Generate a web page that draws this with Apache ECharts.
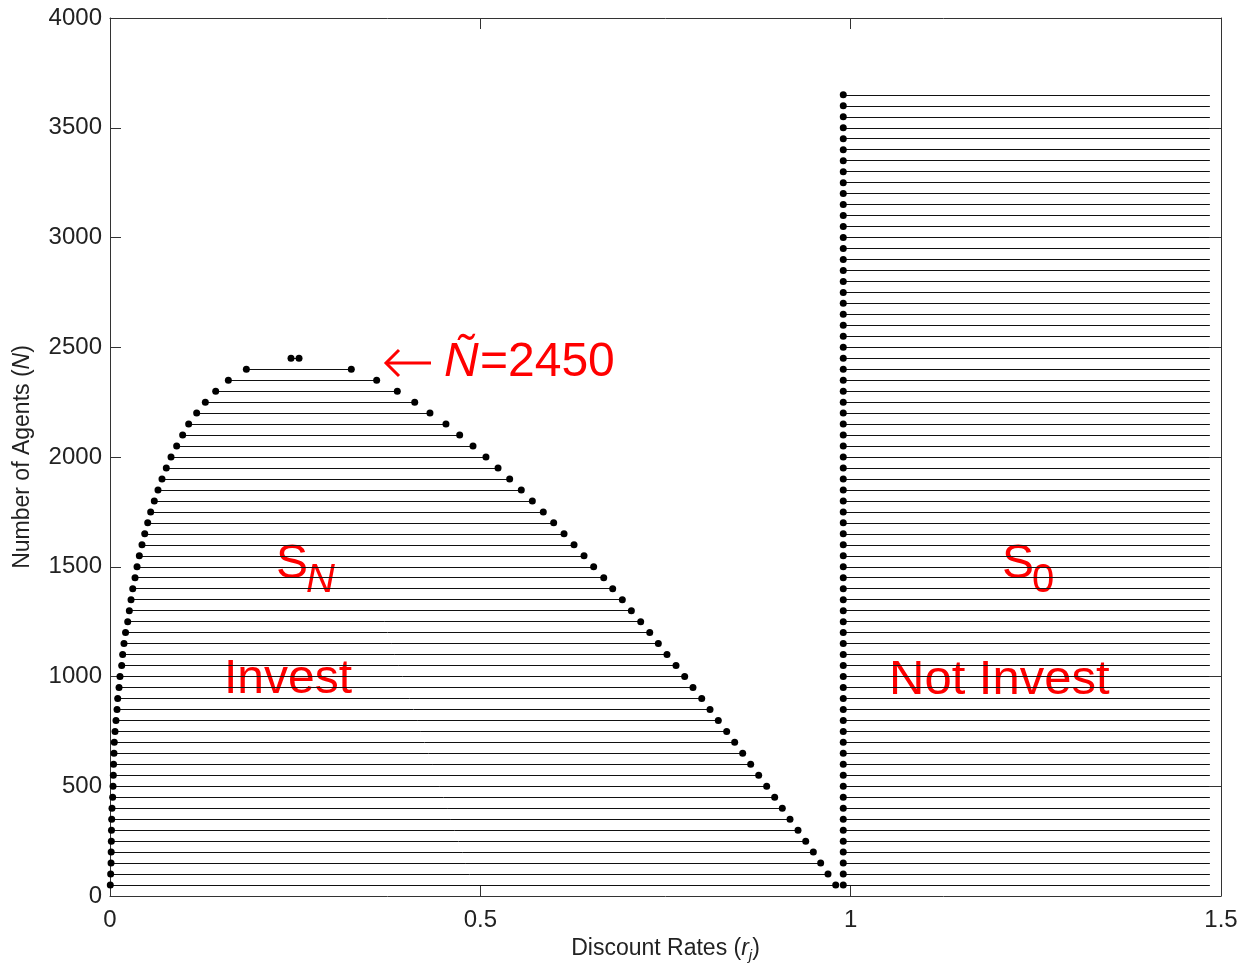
<!DOCTYPE html>
<html>
<head>
<meta charset="utf-8">
<script src="https://cdn.jsdelivr.net/npm/echarts@6/dist/echarts.min.js"></script>
<style>
html,body{margin:0;padding:0;background:#fff;}
#chart{width:1250px;height:968px;}
</style>
</head>
<body>
<div id="chart"></div>
<script>
// ---- data ----
const investN = [50,100,150,200,250,300,350,400,450,500,550,600,650,700,750,800,850,900,950,1000,
  1050,1100,1150,1200,1250,1300,1350,1400,1450,1500,1550,1600,1650,1700,1750,1800,1850,1900,1950,2000,
  2050,2100,2150,2200,2250,2300,2350,2400];
const investLowR = [0.0004,0.0009,0.0014,0.0016,0.0018,0.0020,0.0023,0.0027,0.0036,0.0041,0.0045,0.0048,0.0054,0.0058,0.0068,0.0081,0.0095,0.0104,0.0122,0.0135,
  0.0158,0.0171,0.0189,0.0210,0.0239,0.0261,0.0284,0.0307,0.0338,0.0365,0.0396,0.0432,0.0469,0.0509,0.0549,0.0598,0.0648,0.0702,0.0760,0.0824,
  0.0900,0.0981,0.1062,0.1170,0.1287,0.1427,0.1598,0.1841];
const investHighR = [0.9798,0.9694,0.9595,0.9496,0.9393,0.9289,0.9181,0.9077,0.8974,0.8866,0.8758,0.8650,0.8542,0.8434,0.8326,0.8213,0.8101,0.7989,0.7871,0.7759,
  0.7642,0.7520,0.7403,0.7287,0.7165,0.7039,0.6917,0.6787,0.6666,0.6530,0.6400,0.6265,0.6130,0.5990,0.5850,0.5702,0.5553,0.5396,0.5239,0.5076,
  0.4901,0.4721,0.4536,0.4320,0.4114,0.3879,0.3600,0.3258];
const peakN = 2450;
const peakR = [0.2444, 0.2552];
const notInvestN = [50,100,150,200,250,300,350,400,450,500,550,600,650,700,750,800,850,900,950,1000,
  1050,1100,1150,1200,1250,1300,1350,1400,1450,1500,1550,1600,1650,1700,1750,1800,1850,1900,1950,2000,
  2050,2100,2150,2200,2250,2300,2350,2400,2450,2500,2550,2600,2650,2700,2750,2800,2850,2900,2950,3000,
  3050,3100,3150,3200,3250,3300,3350,3400,3450,3500,3550,3600,3650];
const notInvestLowR = 0.99;
const notInvestHighR = 1.485;
const xTicks = [0, 0.5, 1, 1.5];
const yTicks = [0,500,1000,1500,2000,2500,3000,3500,4000];

// ---- build series data ----
const segs = [];
const dots = [];
investN.forEach((n, i) => {
  segs.push({coords: [[investLowR[i], n], [investHighR[i], n]]});
  dots.push([investLowR[i], n]);
  dots.push([investHighR[i], n]);
});
segs.push({coords: [[peakR[0], peakN], [peakR[1], peakN]]});
dots.push([peakR[0], peakN]);
dots.push([peakR[1], peakN]);
notInvestN.forEach(n => {
  segs.push({coords: [[notInvestLowR, n], [notInvestHighR, n]]});
  dots.push([notInvestLowR, n]);
});

const chart = echarts.init(document.getElementById('chart'), null, {renderer: 'canvas'});
const FONT = 'Liberation Sans, Arial, sans-serif';
const RED = '#ff0000';
const boxLine = {show: true, onZero: false, lineStyle: {color: '#333', width: 1}};
const tick = {show: true, inside: true, length: 11, lineStyle: {color: '#333', width: 1}};

const option = {
  backgroundColor: '#fff',
  animation: false,
  grid: {left: 110, top: 18, width: 1111, height: 878, containLabel: false},
  xAxis: [{
    type: 'value', min: 0, max: 1.5, interval: 0.5, position: 'bottom',
    axisLine: boxLine, axisTick: tick, splitLine: {show: false},
    axisLabel: {color: '#222', fontSize: 24, fontFamily: FONT, margin: 12,
      formatter: v => xTicks.indexOf(v) >= 0 ? String(v) : ''},
    name: '{n|Discount Rates (}{i|r}{s|j}{n|)}', nameLocation: 'middle', nameGap: 34,
    nameTextStyle: {rich: {
      n: {fontSize: 23, fontFamily: FONT, color: '#222'},
      i: {fontSize: 23, fontFamily: FONT, color: '#222', fontStyle: 'italic'},
      s: {fontSize: 15, fontFamily: FONT, color: '#222', fontStyle: 'italic', padding: [14, 0, 0, 0]}
    }}
  }, {
    type: 'value', min: 0, max: 1.5, interval: 0.5, position: 'top',
    axisLine: boxLine, axisTick: tick, axisLabel: {show: false}, splitLine: {show: false}
  }],
  yAxis: [{
    type: 'value', min: 0, max: 4000, interval: 500, position: 'left',
    axisLine: boxLine, axisTick: tick, splitLine: {show: false},
    axisLabel: {color: '#222', fontSize: 24, fontFamily: FONT, margin: 8,
      formatter: v => yTicks.indexOf(v) >= 0 ? String(v) : ''},
    name: '{n|Number of Agents (}{i|N}{n|)}', nameLocation: 'middle', nameGap: 76, nameRotate: 90,
    nameTextStyle: {rich: {
      n: {fontSize: 23, fontFamily: FONT, color: '#222'},
      i: {fontSize: 23, fontFamily: FONT, color: '#222', fontStyle: 'italic'}
    }}
  }, {
    type: 'value', min: 0, max: 4000, interval: 500, position: 'right',
    axisLine: boxLine, axisTick: tick, axisLabel: {show: false}, splitLine: {show: false}
  }],
  series: [{
    type: 'lines', coordinateSystem: 'cartesian2d', xAxisIndex: 0, yAxisIndex: 0,
    polyline: false, silent: true,
    lineStyle: {color: '#111', width: 1, opacity: 1},
    data: segs
  }, {
    type: 'scatter', xAxisIndex: 0, yAxisIndex: 0, silent: true,
    symbol: 'circle', symbolSize: 7,
    itemStyle: {color: '#000', opacity: 1},
    data: dots
  }],
  graphic: [
    // arrow pointing at the peak
    {type: 'line', shape: {x1: 386, y1: 363, x2: 431, y2: 363}, style: {stroke: RED, lineWidth: 3}},
    {type: 'polyline', shape: {points: [[399, 350], [386, 363], [399, 376]]}, style: {stroke: RED, lineWidth: 3, fill: null}},
    {type: 'text', left: 444, top: 339, style: {text: 'Ñ', fontSize: 48, fontStyle: 'italic', fontFamily: FONT, fill: RED}},
    {type: 'text', left: 480, top: 339, style: {text: '=2450', fontSize: 48, fontFamily: FONT, fill: RED}},
    // region labels
    {type: 'text', left: 276, top: 541, style: {text: 'S', fontSize: 48, fontFamily: FONT, fill: RED}},
    {type: 'text', left: 306, top: 561, style: {text: 'N', fontSize: 40, fontStyle: 'italic', fontFamily: FONT, fill: RED}},
    {type: 'text', left: 224, top: 656, style: {text: 'Invest', fontSize: 48, fontFamily: FONT, fill: RED}},
    {type: 'text', left: 1002, top: 541, style: {text: 'S', fontSize: 48, fontFamily: FONT, fill: RED}},
    {type: 'text', left: 1032, top: 561, style: {text: '0', fontSize: 40, fontFamily: FONT, fill: RED}},
    {type: 'text', left: 889, top: 656, style: {text: 'Not Invest', fontSize: 49, fontFamily: FONT, fill: RED}}
  ]
};
chart.setOption(option);
</script>
</body>
</html>
